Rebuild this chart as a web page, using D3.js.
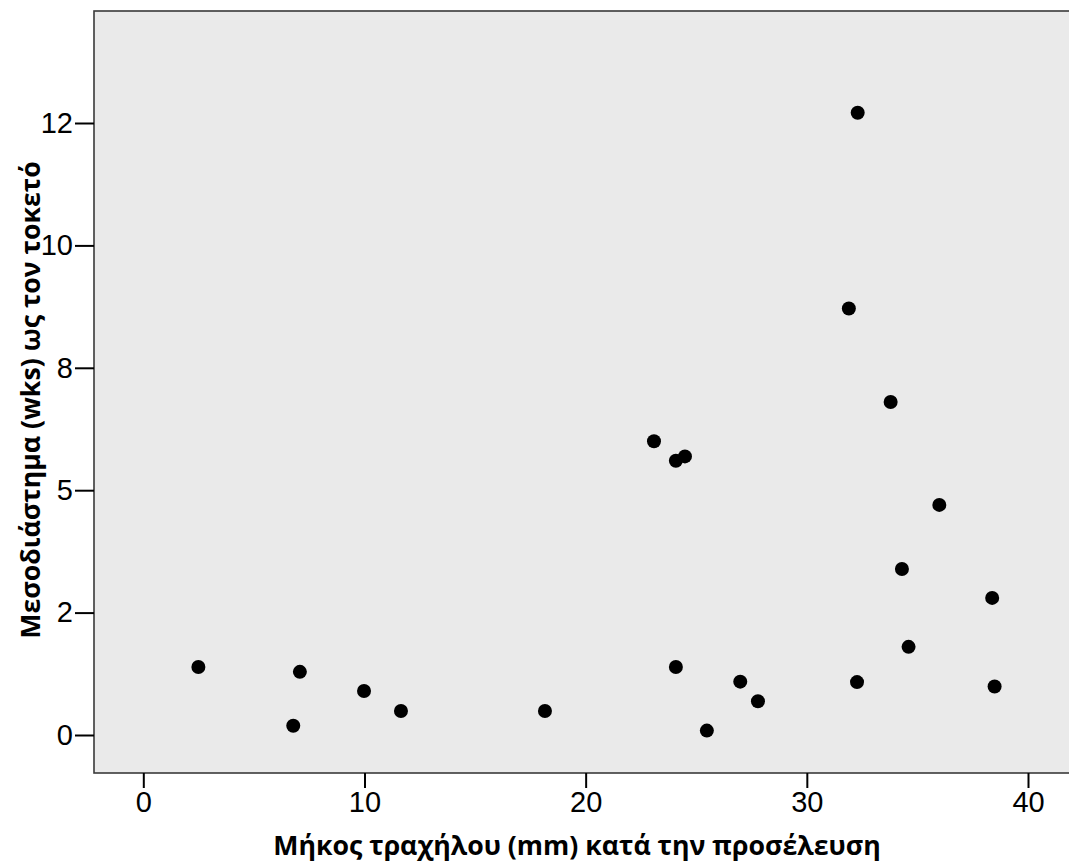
<!DOCTYPE html>
<html>
<head>
<meta charset="utf-8">
<script src="https://cdn.jsdelivr.net/npm/d3@7"></script>
<style>
    body { margin: 0; background: #fff; }
    svg { display: block; }
</style>
</head>
<body>
<div id="chart"></div>
<script>
// cervical length at presentation (mm)
const cervixLength = [2.49, 6.78, 7.08, 9.98, 11.65, 18.16, 23.09, 24.08, 24.49, 24.08, 25.48,
    26.99, 27.79, 31.90, 32.30, 32.27, 33.79, 35.99, 34.30, 34.60, 38.38, 38.49];
// interval to delivery (weeks)
const weeksToDelivery = [1.39, 0.19, 1.29, 0.90, 0.49, 0.49, 6.00, 5.60, 5.69, 1.39, 0.09,
    1.09, 0.69, 8.71, 12.71, 1.08, 6.80, 4.70, 3.39, 1.80, 2.80, 0.99];

const xTicks = [0, 10, 20, 30, 40];
const yTicks = [0, 2.5, 5, 7.5, 10, 12.5];
const yTickLabels = ['0', '2', '5', '8', '10', '12'];

const xTitle = 'Μήκος τραχήλου (mm) κατά την προσέλευση';
const yTitle = 'Μεσοδιάστημα (wks) ως τον τοκετό';

const width = 1069;
const height = 868;
const plot = { left: 94, top: 11, right: 1075, bottom: 773 };

const x = d3.scaleLinear().domain([0, 40]).range([143.3, 1028]);
const y = d3.scaleLinear().domain([0, 12.5]).range([735, 123]);

const svg = d3.select('#chart')
    .append('svg')
    .attr('width', width)
    .attr('height', height);

svg.append('rect')
    .attr('x', plot.left)
    .attr('y', plot.top)
    .attr('width', plot.right - plot.left)
    .attr('height', plot.bottom - plot.top)
    .attr('fill', '#eaeaea')
    .attr('stroke', '#3a3a3a')
    .attr('stroke-width', 1.6);

const xAxis = svg.append('g')
    .attr('transform', `translate(0,${plot.bottom})`)
    .call(d3.axisBottom(x).tickValues(xTicks).tickSize(15).tickPadding(3).tickFormat(d3.format('d')));

const yAxis = svg.append('g')
    .attr('transform', `translate(${plot.left},0)`)
    .call(d3.axisLeft(y).tickValues(yTicks).tickSize(19).tickPadding(2).tickFormat((d, i) => yTickLabels[i]));

[xAxis, yAxis].forEach(g => {
    g.select('.domain').remove();
    g.selectAll('.tick line').attr('stroke', '#000').attr('stroke-width', 2);
    g.selectAll('.tick text')
        .attr('fill', '#000')
        .style('font-family', '"Liberation Sans", Arial, sans-serif')
        .style('font-size', '29px');
});

svg.append('g')
    .selectAll('circle')
    .data(cervixLength.map((v, i) => ({ len: v, wks: weeksToDelivery[i] })))
    .enter()
    .append('circle')
    .attr('cx', d => x(d.len))
    .attr('cy', d => y(d.wks))
    .attr('r', 7)
    .attr('fill', '#000');

svg.append('text')
    .attr('x', 577)
    .attr('y', 855)
    .attr('text-anchor', 'middle')
    .style('font-family', '"Open Sans", sans-serif')
    .style('font-weight', 'bold')
    .style('font-size', '26.7px')
    .text(xTitle);

svg.append('text')
    .attr('transform', 'translate(40,400) rotate(-90)')
    .attr('text-anchor', 'middle')
    .style('font-family', '"Open Sans", sans-serif')
    .style('font-weight', 'bold')
    .style('font-size', '26.7px')
    .text(yTitle);
</script>
</body>
</html>
